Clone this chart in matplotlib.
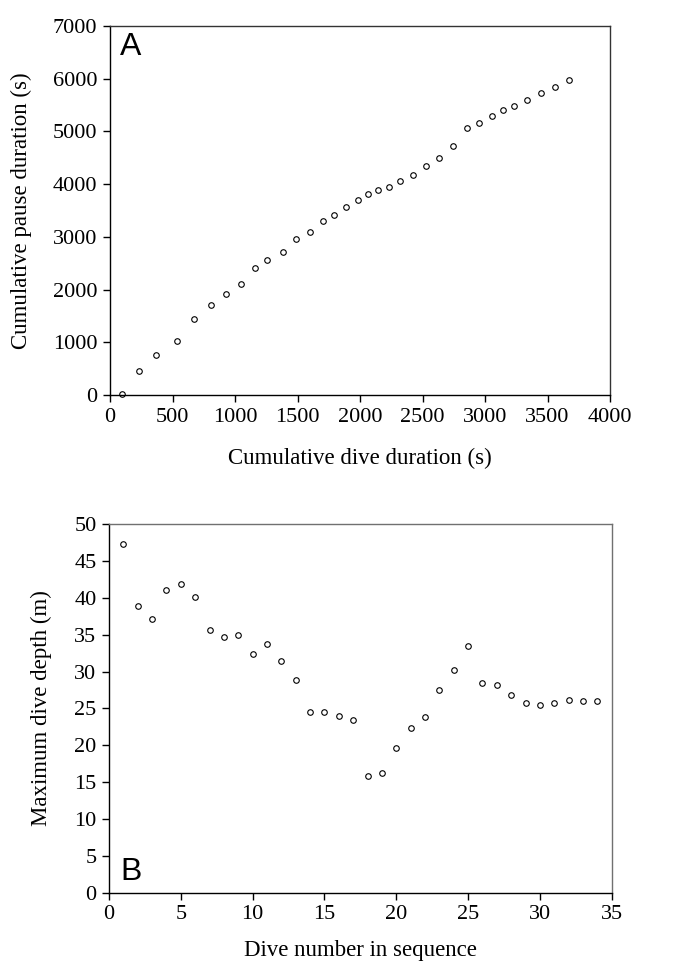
import matplotlib
matplotlib.use('Agg')
import matplotlib.pyplot as plt
import numpy as np

# panel A: cumulative dive vs pause duration (s)
cum_dive = [100, 235, 368, 533, 675, 805, 925, 1051, 1157, 1259, 1381, 1485,
            1597, 1701, 1792, 1891, 1981, 2064, 2144, 2235, 2320, 2421, 2528,
            2629, 2744, 2853, 2955, 3056, 3144, 3235, 3336, 3448, 3560, 3672]
cum_pause = [10, 456, 766, 1032, 1443, 1703, 1918, 2101, 2405, 2563, 2715, 2956,
             3095, 3304, 3424, 3576, 3696, 3804, 3886, 3949, 4063, 4165, 4335,
             4500, 4728, 5057, 5165, 5291, 5399, 5487, 5589, 5728, 5842, 5975]

# panel B: maximum depth per dive (m)
dive_no = list(range(1, 35))
max_depth = [47.3, 38.9, 37.1, 41.1, 41.9, 40.1, 35.6, 34.7, 34.9, 32.4, 33.8,
             31.5, 28.8, 24.5, 24.5, 24.0, 23.5, 15.9, 16.2, 19.6, 22.4, 23.8,
             27.5, 30.2, 33.5, 28.5, 28.2, 26.8, 25.7, 25.5, 25.8, 26.1, 26.0, 26.0]

plt.rcParams['font.family'] = 'Liberation Serif'
plt.rcParams['font.size'] = 16

fig = plt.figure(figsize=(6.74, 9.63), dpi=100)
axA = fig.add_axes([0.1632, 0.5898, 0.742, 0.3832])
axB = fig.add_axes([0.1617, 0.0727, 0.746, 0.3832])


def style(ax, frame_col):
    for s in ['top', 'right']:
        ax.spines[s].set_color(frame_col)
        ax.spines[s].set_linewidth(1.0)
    for s in ['left', 'bottom']:
        ax.spines[s].set_color('black')
        ax.spines[s].set_linewidth(1.0)
    ax.tick_params(direction='out', length=5, width=1.0, top=False, right=False,
                   labelsize=16, pad=4)


axA.plot(cum_dive, cum_pause, 'o', ms=4, mfc='white', mec='black', mew=0.8,
         clip_on=False)
axA.set_xlim(0, 4000)
axA.set_ylim(0, 7000)
axA.set_xticks(np.arange(0, 4001, 500))
axA.set_yticks(np.arange(0, 7001, 1000))
axA.set_xlabel('Cumulative dive duration (s)', fontsize=16.5)
axA.set_ylabel('Cumulative pause duration (s)', fontsize=16.5)
axA.xaxis.set_label_coords(0.5, -0.143)
axA.yaxis.set_label_coords(-0.156, 0.5)
axA.text(0.02, 0.985, 'A', transform=axA.transAxes, family='Liberation Sans',
         fontsize=23, va='top', ha='left')
style(axA, '#333333')

axB.plot(dive_no, max_depth, 'o', ms=4, mfc='white', mec='black', mew=0.8,
         clip_on=False)
axB.set_xlim(0, 35)
axB.set_ylim(0, 50)
axB.set_xticks(np.arange(0, 36, 5))
axB.set_yticks(np.arange(0, 51, 5))
axB.set_xlabel('Dive number in sequence', fontsize=16.5)
axB.set_ylabel('Maximum dive depth (m)', fontsize=16.5)
axB.xaxis.set_label_coords(0.5, -0.128)
axB.yaxis.set_label_coords(-0.113, 0.5)
axB.text(0.022, 0.015, 'B', transform=axB.transAxes, family='Liberation Sans',
         fontsize=23, va='bottom', ha='left')
style(axB, '#707070')

fig.savefig('out.png', dpi=100)
